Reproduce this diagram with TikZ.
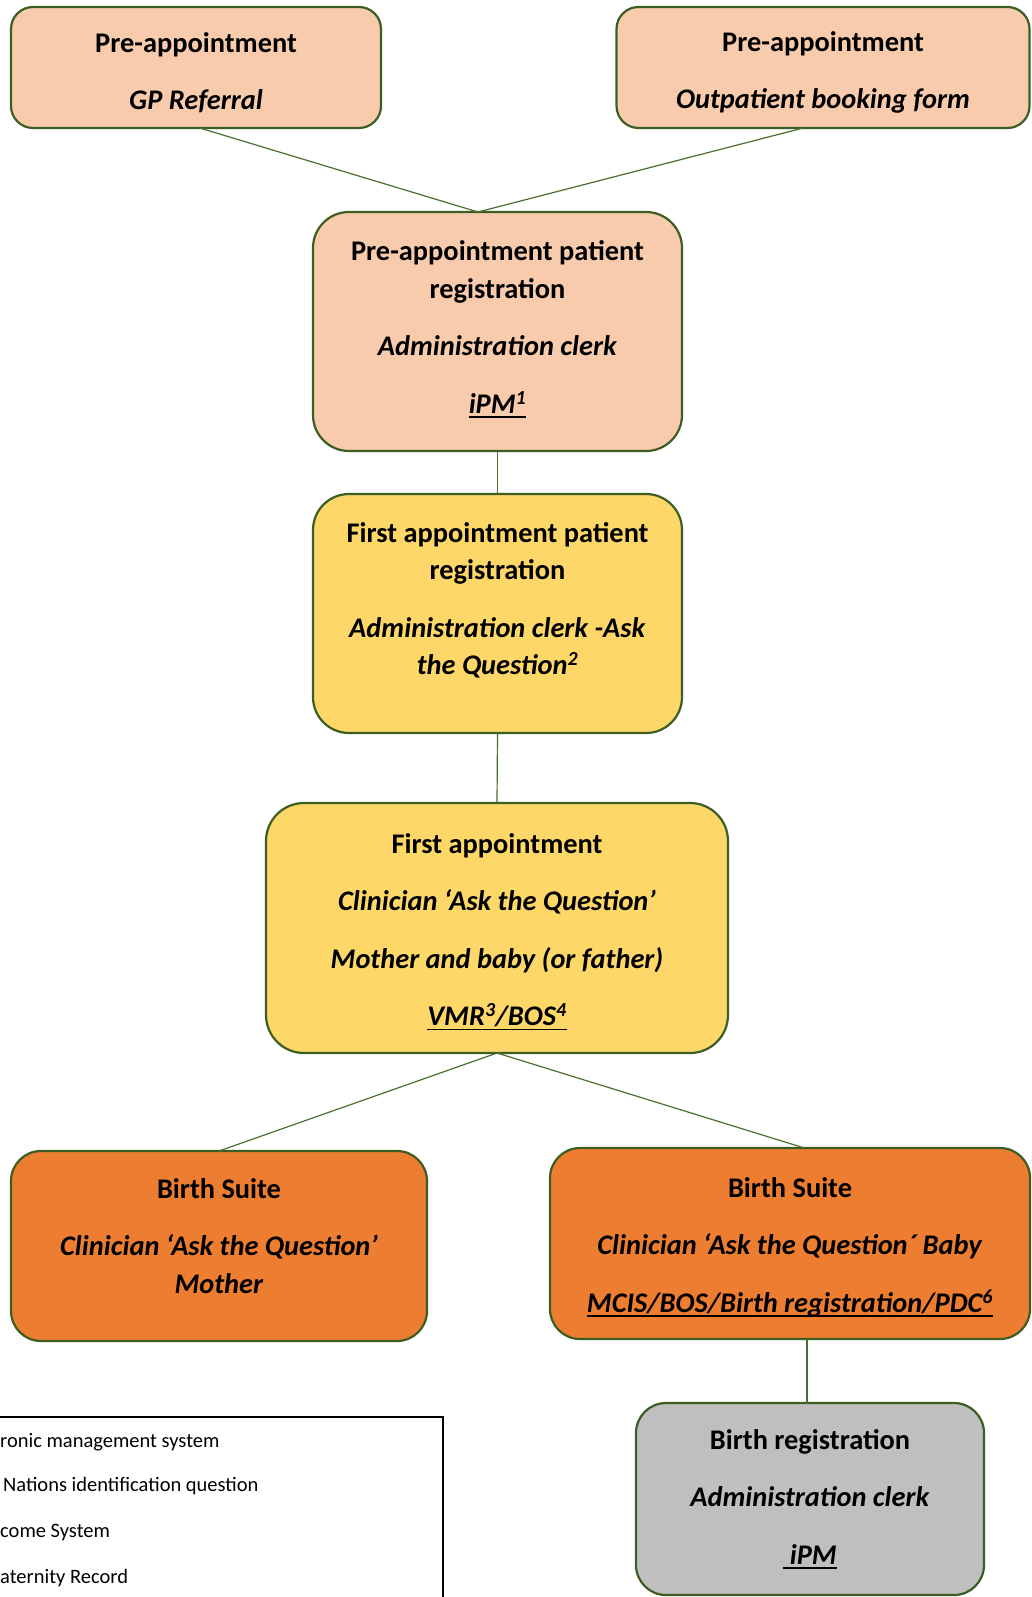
\documentclass[tikz,border=0pt]{standalone}
\usepackage{fontspec}
\setmainfont{Carlito}
\usetikzlibrary{calc}
\definecolor{peach}{HTML}{F8CBAD}
\definecolor{gold}{HTML}{FDD767}
\definecolor{orng}{HTML}{ED7D31}
\definecolor{greyfill}{HTML}{BFBFBF}
\definecolor{bord}{HTML}{3D5E22}
\definecolor{conn}{HTML}{4A7030}
\newcommand\ulx[1]{\leavevmode\setbox0\hbox{#1}\rlap{\rule[-4.5pt]{\wd0}{1.8pt}}\box0}
\begin{document}
\begin{tikzpicture}[x=1pt,y=-1pt,
  box/.style={draw=bord, line width=2.2pt, inner sep=0pt, outer sep=0pt},
  boxtext/.style={inner sep=0pt, align=center, font=\fontsize{28.4}{37.5}\selectfont\bfseries, text=black},
  link/.style={draw=conn, line width=1.2pt},
  legtext/.style={anchor=base west, inner sep=0pt, font=\fontsize{20.5}{24}\selectfont}]
\clip (0,0) rectangle (1032,1597);
\fill[white] (0,0) rectangle (1032,1597);

% boxes
\node[box, fill=peach, rounded corners=22pt, minimum width=370pt, minimum height=121pt] (gp) at (196,67.5) {};
\node[boxtext] (gpt) at ($(gp.center)+(0,5)$) {Pre-appointment\\[20pt]\textit{GP Referral}};

\node[box, fill=peach, rounded corners=22pt, minimum width=413pt, minimum height=121pt] (ob) at (823,67.5) {};
\node[boxtext] (obt) at ($(ob.center)+(0,5)$) {Pre-appointment\\[20pt]\textit{Outpatient booking form}};

\node[box, fill=peach, rounded corners=36pt, minimum width=369pt, minimum height=239pt] (prereg) at (497.5,331.5) {};
\node[boxtext] (preregt) at ($(prereg.center)+(0,-2)$)
  {Pre-appointment patient\\registration\\[20pt]\textit{Administration clerk}\\[20pt]\ulx{\textit{iPM\textsuperscript{1}}}};

\node[box, fill=gold, rounded corners=36pt, minimum width=369pt, minimum height=239pt] (firstreg) at (497.5,613.5) {};
\node[boxtext] (firstregt) at ($(firstreg.center)+(0,-13)$)
  {First appointment patient\\registration\\[20pt]\textit{Administration clerk -Ask}\\\textit{the Question\textsuperscript{2}}};

\node[box, fill=gold, rounded corners=38pt, minimum width=462pt, minimum height=250pt] (fa) at (497,928) {};
\node[boxtext] (fat) at ($(fa.center)+(0,4)$)
  {First appointment\\[20pt]\textit{Clinician ‘Ask the Question’}\\[20pt]\textit{Mother and baby (or father)}\\[20pt]\ulx{\textit{VMR\textsuperscript{3}/BOS\textsuperscript{4}}}};

\node[box, fill=orng, rounded corners=30pt, minimum width=416pt, minimum height=190pt] (bsl) at (219,1246) {};
\node[boxtext] (bslt) at ($(bsl.center)+(0,-10)$)
  {Birth Suite\\[20pt]\textit{Clinician ‘Ask the Question’}\\\textit{Mother}};

\node[box, fill=orng, rounded corners=30pt, minimum width=480pt, minimum height=191pt] (bsr) at (790,1243.5) {};
\node[boxtext] (bsrt) at ($(bsr.center)+(0,3.5)$)
  {Birth Suite\\[20pt]\textit{Clinician ‘Ask the Question´ Baby}\\[20pt]\ulx{\textit{MCIS/BOS/Birth registration/PDC\textsuperscript{6}}}};

\node[box, fill=greyfill, rounded corners=30pt, minimum width=348pt, minimum height=192pt] (br) at (810,1499) {};
\node[boxtext] (brt) at (br.center)
  {Birth registration\\[20pt]\textit{Administration clerk}\\[20pt]\ulx{\textit{\ iPM}}};

% connectors
\coordinate (meet) at ($(prereg.north west)!0.447!(prereg.north east)$);
\draw[link] ($(gp.south west)!0.51!(gp.south east)$) -- (meet);
\draw[link] ($(ob.south west)!0.452!(ob.south east)$) -- (meet);
\draw[link] (prereg.south) -- (firstreg.north);
\draw[link] (firstreg.south) -- (fa.north);
\draw[link] (fa.south) -- (bsl.north);
\draw[link] (fa.south) -- ($(bsr.north west)!0.53!(bsr.north east)$);
\coordinate (brtop) at ($(br.north)+(-3,0)$);
\draw[link] (bsr.south -| brtop) -- (brtop);

% legend
\node[draw=black, line width=1.6pt, inner sep=0pt, minimum width=474pt, minimum height=200pt, anchor=north east] (legend) at (444,1416) {};
\node[legtext] (l1) at (0,1447) {ronic management system};
\node[legtext] (l2) at (3,1491) {Nations identification question};
\node[legtext] (l3) at (0,1537) {come System};
\node[legtext] (l4) at (0,1583) {aternity Record};
\end{tikzpicture}
\end{document}
